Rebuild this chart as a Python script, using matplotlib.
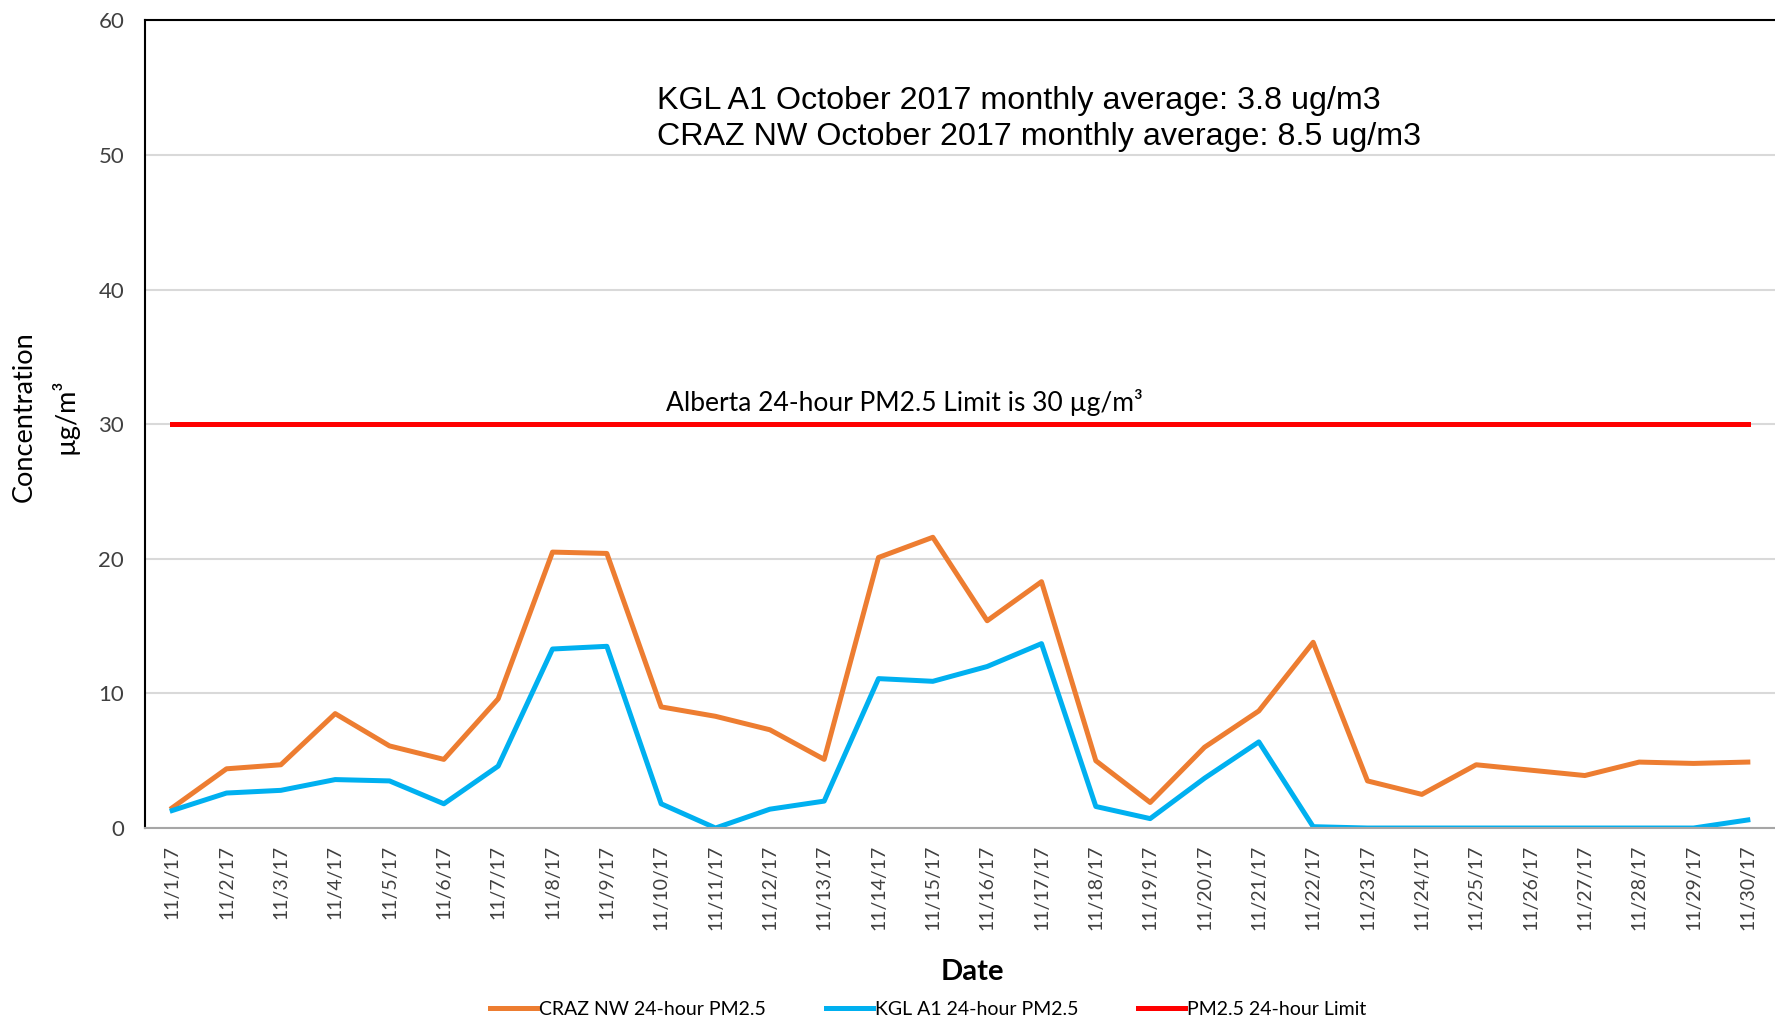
import numpy as np
import matplotlib
matplotlib.use("Agg")
import matplotlib.pyplot as plt

# daily PM2.5 values, November 2017
dates = ["11/%d/17" % d for d in range(1, 31)]
craz_nw = [1.5, 4.4, 4.7, 8.5, 6.1, 5.1, 9.6, 20.5, 20.4, 9.0,
           8.3, 7.3, 5.1, 20.1, 21.6, 15.4, 18.3, 5.0, 1.9, 6.0,
           8.7, 13.8, 3.5, 2.5, 4.7, 4.3, 3.9, 4.9, 4.8, 4.9]
kgl_a1 = [1.3, 2.6, 2.8, 3.6, 3.5, 1.8, 4.6, 13.3, 13.5, 1.8,
          0.0, 1.4, 2.0, 11.1, 10.9, 12.0, 13.7, 1.6, 0.7, 3.7,
          6.4, 0.1, 0.0, 0.0, 0.0, 0.0, 0.0, 0.0, 0.0, 0.6]
limit = [30] * 30
yticks = [0, 10, 20, 30, 40, 50, 60]

avg_lines = ["KGL A1 October 2017 monthly average: 3.8 ug/m3",
             "CRAZ NW October 2017 monthly average: 8.5 ug/m3"]

calibri = ["Lato", "DejaVu Sans"]
arial = ["Liberation Sans", "DejaVu Sans"]

fig = plt.figure(figsize=(17.75, 10.21), dpi=100)
ax = fig.add_axes([0.0817, 0.189, 0.9183, 0.791])

x = np.arange(len(dates))
ax.plot(x, craz_nw, color="#ED7D31", lw=3.6, label="CRAZ NW 24-hour PM2.5", solid_joinstyle="round")
ax.plot(x, kgl_a1, color="#00B0F0", lw=3.6, label="KGL A1 24-hour PM2.5", solid_joinstyle="round")
ax.plot(x, limit, color="#FF0000", lw=3.6, label="PM2.5 24-hour Limit")

ax.set_xlim(-0.5, len(dates) - 0.5)
ax.set_ylim(0, 60)
ax.set_yticks(yticks)
ax.set_yticklabels([str(v) for v in yticks], fontsize=16, family=calibri, color="#404040")
ax.set_xticks(x)
ax.set_xticklabels(dates, rotation=90, fontsize=14, family=calibri, color="#404040")
ax.tick_params(axis="both", length=0)
ax.tick_params(axis="y", pad=15)
ax.tick_params(axis="x", pad=12)

ax.grid(axis="y", color="#D9D9D9", lw=1.5)
ax.set_axisbelow(True)
for s in ["top", "left"]:
    ax.spines[s].set_color("black")
    ax.spines[s].set_linewidth(1.5)
ax.spines["right"].set_visible(False)
ax.spines["bottom"].set_color("#A6A6A6")
ax.spines["bottom"].set_linewidth(1.5)

ax.set_xlabel("Date", fontsize=21, fontweight="bold", family=calibri)
ax.xaxis.set_label_coords(0.5075, -0.162)
ax.set_ylabel("Concentration\n\u00b5g/m\u00b3", fontsize=19.5, family=calibri, linespacing=1.6)
ax.yaxis.set_label_coords(-0.041, 0.51)

ax.text(0.314, 0.878, "\n".join(avg_lines), transform=ax.transAxes, ha="left", va="center",
        fontsize=23.2, family=arial, linespacing=1.24)
ax.text(13.48, 30.6, "Alberta 24-hour PM2.5 Limit is 30 \u00b5g/m\u00b3", ha="center", va="bottom",
        fontsize=19, family=calibri)

fig.legend(loc="lower center", bbox_to_anchor=(0.523, -0.014), ncol=3, frameon=False,
           prop={"family": calibri, "size": 14}, handlelength=2.4, handletextpad=0.1,
           columnspacing=3.1)

fig.savefig("out.png", dpi=100)
